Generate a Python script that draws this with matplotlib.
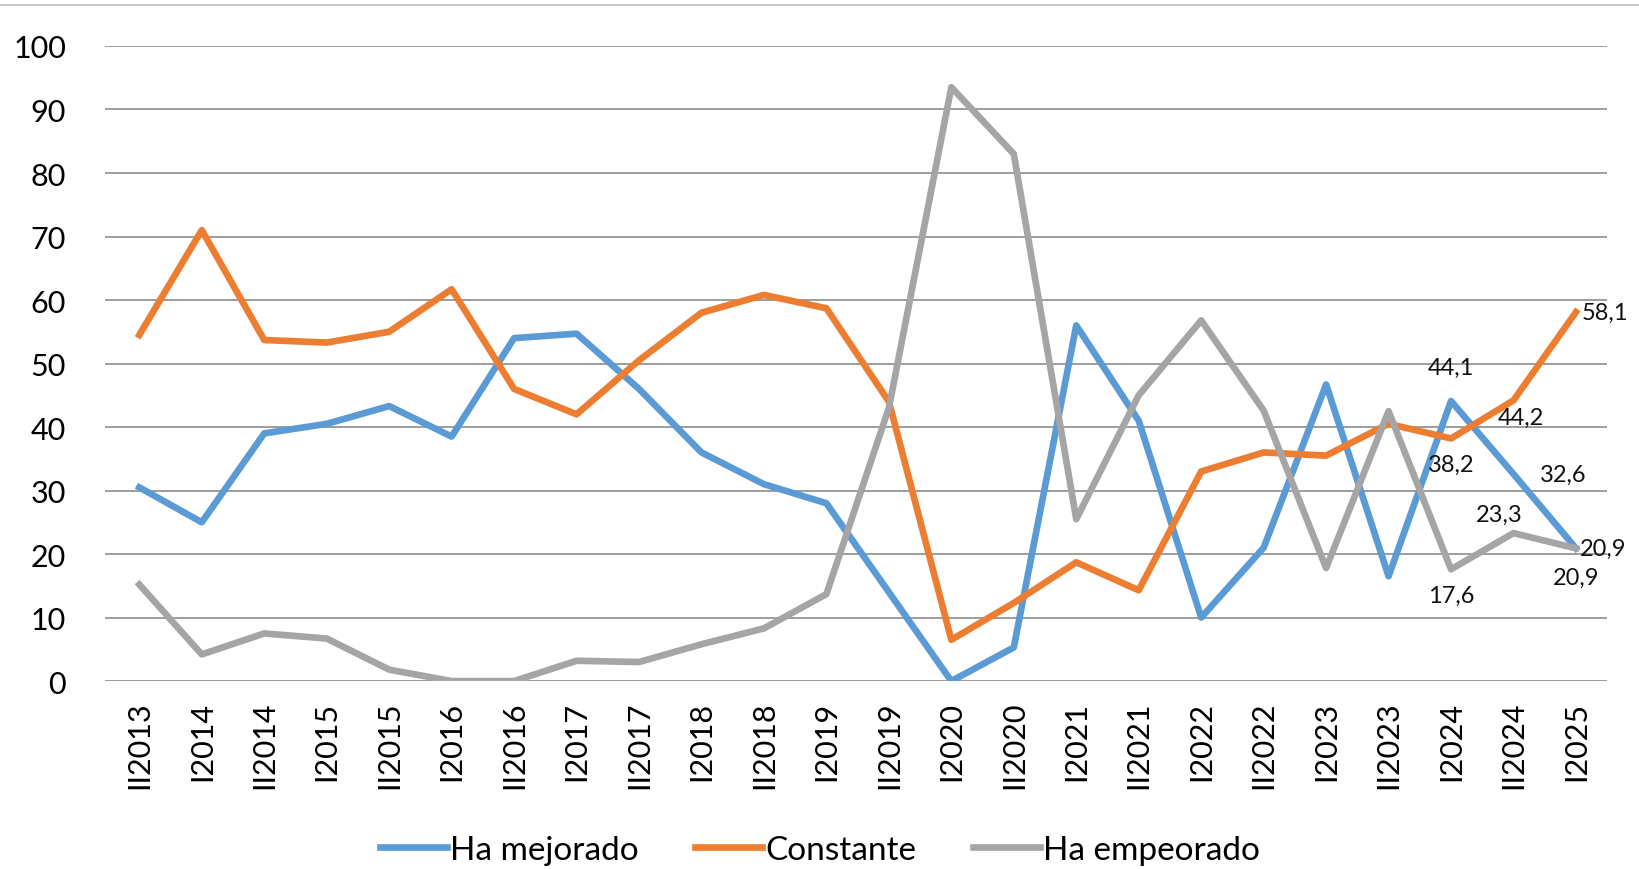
import matplotlib.pyplot as plt
from matplotlib.lines import Line2D
import numpy as np

periods = ["II2013", "I2014", "II2014", "I2015", "II2015", "I2016", "II2016", "I2017",
           "II2017", "I2018", "II2018", "I2019", "II2019", "I2020", "II2020", "I2021",
           "II2021", "I2022", "II2022", "I2023", "II2023", "I2024", "II2024", "I2025"]

mejorado = [30.5, 25.0, 39.0, 40.5, 43.3, 38.5, 54.0, 54.7, 46.0, 36.0, 31.0, 28.0,
            14.0, 0.0, 5.3, 56.0, 41.0, 10.0, 21.0, 46.7, 16.5, 44.1, 32.6, 20.9]
constante = [54.5, 71.0, 53.7, 53.3, 55.0, 61.7, 46.0, 42.0, 50.5, 58.0, 60.8, 58.7,
             44.0, 6.5, 12.3, 18.7, 14.3, 33.0, 36.0, 35.5, 40.5, 38.2, 44.2, 58.1]
empeorado = [15.2, 4.2, 7.5, 6.7, 1.8, 0.0, 0.0, 3.2, 3.0, 5.8, 8.3, 13.7,
             43.0, 93.5, 83.0, 25.5, 45.0, 56.8, 42.6, 17.8, 42.5, 17.6, 23.3, 20.9]

plt.rcParams['font.family'] = ['Lato', 'DejaVu Sans']

fig = plt.figure(figsize=(16.4, 8.7), dpi=100)
ax = fig.add_axes([0.064, 0.216, 0.916, 0.730])

x = np.arange(len(periods))
ax.plot(x, mejorado, color="#5B9BD5", lw=4.8, label="Ha mejorado", zorder=3)
ax.plot(x, constante, color="#ED7D31", lw=4.8, label="Constante", zorder=3)
ax.plot(x, empeorado, color="#A5A5A5", lw=4.8, label="Ha empeorado", zorder=3)

# labels for the last three points
n = len(periods)
lab = dict(fontsize=17, color="#111111")
ax.annotate("44,1", (n - 3, mejorado[-3]), xytext=(0, 17), textcoords="offset points", ha="center", va="bottom", **lab)
ax.annotate("32,6", (n - 2, mejorado[-2]), xytext=(19, 0), textcoords="offset points", ha="left", va="center", **lab)
ax.annotate("20,9", (n - 1, mejorado[-1]), xytext=(3, 0), textcoords="offset points", ha="left", va="center", **lab)
ax.annotate("38,2", (n - 3, constante[-3]), xytext=(0, -11), textcoords="offset points", ha="center", va="top", **lab)
ax.annotate("44,2", (n - 2, constante[-2]), xytext=(-11, -5), textcoords="offset points", ha="left", va="top", **lab)
ax.annotate("58,1", (n - 1, constante[-1]), xytext=(4, 0), textcoords="offset points", ha="left", va="center", **lab)
ax.annotate("17,6", (n - 3, empeorado[-3]), xytext=(0, -11), textcoords="offset points", ha="center", va="top", **lab)
ax.annotate("23,3", (n - 2, empeorado[-2]), xytext=(-10, 6), textcoords="offset points", ha="center", va="bottom", **lab)
ax.annotate("20,9", (n - 1, empeorado[-1]), xytext=(0, -13), textcoords="offset points", ha="center", va="top", **lab)

ax.set_xlim(-0.55, n - 0.5)
ax.set_ylim(0, 100)
ax.set_yticks(range(0, 101, 10))
ax.set_xticks(x)
ax.set_xticklabels(periods, rotation=90, fontsize=22)
ax.tick_params(axis="y", labelsize=22, length=0, pad=28)
ax.tick_params(axis="x", length=0, pad=14)
ax.grid(axis="y", color="#8C8C8C", lw=1.2)
ax.set_axisbelow(True)
for s in ax.spines.values():
    s.set_visible(False)

fig.legend(loc="lower center", bbox_to_anchor=(0.5, -0.03), ncol=3, frameon=False,
           fontsize=24, handlelength=2.0, handletextpad=0.1, columnspacing=1.7)

fig.add_artist(Line2D([0, 1], [0.993, 0.993], color="#BFBFBF", lw=1.2))

fig.savefig("out.png", dpi=100)
